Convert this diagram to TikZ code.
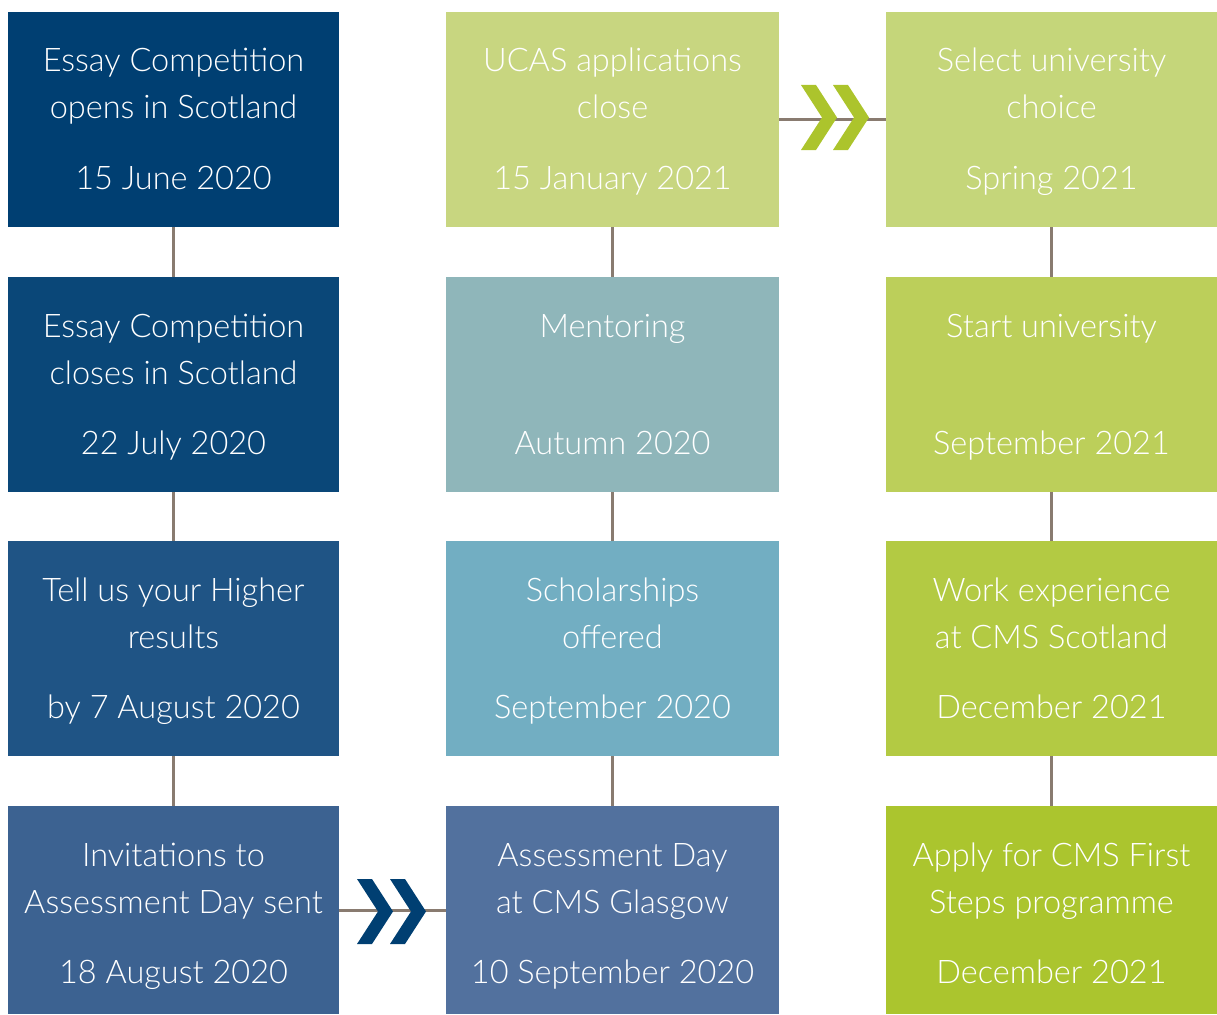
\documentclass[tikz,border=0pt]{standalone}
\usepackage{fontspec}
\setmainfont{Lato Light}
\definecolor{cA1}{RGB}{0,63,114}
\definecolor{cA2}{RGB}{10,71,120}
\definecolor{cA3}{RGB}{31,84,133}
\definecolor{cA4}{RGB}{60,98,145}
\definecolor{cB1}{RGB}{200,214,128}
\definecolor{cB2}{RGB}{143,182,186}
\definecolor{cB3}{RGB}{114,174,194}
\definecolor{cB4}{RGB}{82,113,158}
\definecolor{cC1}{RGB}{197,214,122}
\definecolor{cC2}{RGB}{188,207,90}
\definecolor{cC3}{RGB}{179,202,67}
\definecolor{cC4}{RGB}{171,197,46}
\definecolor{connc}{RGB}{137,123,112}
\definecolor{navy}{RGB}{0,63,114}
\definecolor{lime}{RGB}{172,196,44}
\newcommand{\tlbox}[9]{%
  \node[tlrect, fill=#6, minimum width=#4pt, minimum height=#5pt] (#1) at (#2,#3) {};
  \node[tltext] (#1a) at ([yshift=-60pt]#1.north) {#7};
  \node[tltext] (#1b) at ([yshift=-107pt]#1.north) {#8};
  \node[tltext] (#1c) at ([yshift=-177pt]#1.north) {#9};
}
\newcommand{\tlchev}[4]{% left x, mid y, colour, name
  \fill[#3] (#1,#2-32.5) -- ++(15,0) -- (#1+36,#2) -- (#1+15,#2+32.5) -- (#1,#2+32.5) -- (#1+21,#2) -- cycle;
}
\begin{document}
\begin{tikzpicture}[x=1pt,y=-1pt,
  tlrect/.style={draw=none, inner sep=0pt, outer sep=0pt, anchor=north west},
  tltext/.style={text=white, inner sep=0pt, anchor=base, font=\fontsize{32.5}{38}\selectfont},
  conn/.style={draw=connc, line width=3pt}]
\useasboundingbox (0,0) rectangle (1217,1014);
\tlbox{a1}{8}{12}{331}{215}{cA1}{Essay Competition}{opens in Scotland}{15 June 2020}
\tlbox{a2}{8}{277}{331}{215}{cA2}{Essay Competition}{closes in Scotland}{22 July 2020}
\tlbox{a3}{8}{541}{331}{215}{cA3}{Tell us your Higher}{results}{by 7 August 2020}
\tlbox{a4}{8}{806}{331}{208}{cA4}{Invitations to}{Assessment Day sent}{18 August 2020}
\tlbox{b1}{446}{12}{333}{215}{cB1}{UCAS applications}{close}{15 January 2021}
\tlbox{b2}{446}{277}{333}{215}{cB2}{Mentoring}{}{Autumn 2020}
\tlbox{b3}{446}{541}{333}{215}{cB3}{Scholarships}{offered}{September 2020}
\tlbox{b4}{446}{806}{333}{208}{cB4}{Assessment Day}{at CMS Glasgow}{10 September 2020}
\tlbox{c1}{886}{12}{331}{215}{cC1}{Select university}{choice}{Spring 2021}
\tlbox{c2}{886}{277}{331}{215}{cC2}{Start university}{}{September 2021}
\tlbox{c3}{886}{541}{331}{215}{cC3}{Work experience}{at CMS Scotland}{December 2021}
\tlbox{c4}{886}{806}{331}{208}{cC4}{Apply for CMS First}{Steps programme}{December 2021}
\draw[conn] (a1.south) -- (a2.north);
\draw[conn] (a2.south) -- (a3.north);
\draw[conn] (a3.south) -- (a4.north);
\draw[conn] (b1.south) -- (b2.north);
\draw[conn] (b2.south) -- (b3.north);
\draw[conn] (b3.south) -- (b4.north);
\draw[conn] (c1.south) -- (c2.north);
\draw[conn] (c2.south) -- (c3.north);
\draw[conn] (c3.south) -- (c4.north);
\draw[conn] (b1.east) -- (c1.west);
\draw[conn] (a4.east) -- (b4.west);
\tlchev{357}{911.5}{navy}{n1}
\tlchev{390}{911.5}{navy}{n2}
\tlchev{801}{117.5}{lime}{g1}
\tlchev{833}{117.5}{lime}{g2}
\end{tikzpicture}
\end{document}
